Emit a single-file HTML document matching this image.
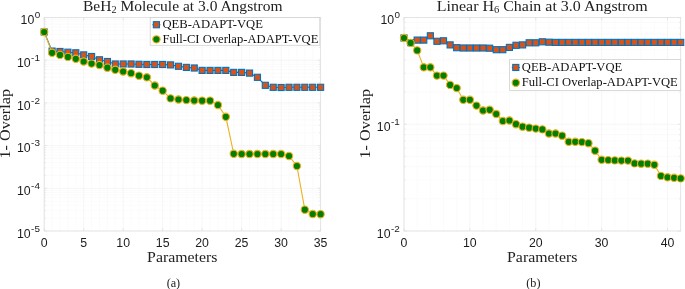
<!DOCTYPE html>
<html><head><meta charset="utf-8"><style>
html,body{margin:0;padding:0;background:#fff;}
svg{display:block;will-change:transform}
.tk{font-family:"Liberation Sans",sans-serif;font-size:12.3px;fill:#1c1c1c}
.sup{font-family:"Liberation Sans",sans-serif;font-size:9.9px;fill:#1c1c1c}
.lg{font-family:"Liberation Serif",serif;font-size:13.2px;fill:#111}
.tt{font-family:"Liberation Serif",serif;font-size:14.4px;fill:#222}
.lb{font-family:"Liberation Serif",serif;font-size:15.2px;fill:#222}
.cap{font-family:"Liberation Serif",serif;font-size:12.2px;fill:#222}
</style></head><body>
<svg width="685" height="289" viewBox="0 0 685 289">
<line x1="44.2" x2="320.6" y1="47.35" y2="47.35" stroke="#f9f9f9" stroke-width="0.7"/>
<line x1="44.2" x2="320.6" y1="39.83" y2="39.83" stroke="#f9f9f9" stroke-width="0.7"/>
<line x1="44.2" x2="320.6" y1="34.49" y2="34.49" stroke="#f9f9f9" stroke-width="0.7"/>
<line x1="44.2" x2="320.6" y1="30.35" y2="30.35" stroke="#f9f9f9" stroke-width="0.7"/>
<line x1="44.2" x2="320.6" y1="26.97" y2="26.97" stroke="#f9f9f9" stroke-width="0.7"/>
<line x1="44.2" x2="320.6" y1="24.11" y2="24.11" stroke="#f9f9f9" stroke-width="0.7"/>
<line x1="44.2" x2="320.6" y1="21.64" y2="21.64" stroke="#f9f9f9" stroke-width="0.7"/>
<line x1="44.2" x2="320.6" y1="19.45" y2="19.45" stroke="#f9f9f9" stroke-width="0.7"/>
<line x1="44.2" x2="320.6" y1="90.05" y2="90.05" stroke="#f9f9f9" stroke-width="0.7"/>
<line x1="44.2" x2="320.6" y1="82.53" y2="82.53" stroke="#f9f9f9" stroke-width="0.7"/>
<line x1="44.2" x2="320.6" y1="77.19" y2="77.19" stroke="#f9f9f9" stroke-width="0.7"/>
<line x1="44.2" x2="320.6" y1="73.05" y2="73.05" stroke="#f9f9f9" stroke-width="0.7"/>
<line x1="44.2" x2="320.6" y1="69.67" y2="69.67" stroke="#f9f9f9" stroke-width="0.7"/>
<line x1="44.2" x2="320.6" y1="66.81" y2="66.81" stroke="#f9f9f9" stroke-width="0.7"/>
<line x1="44.2" x2="320.6" y1="64.34" y2="64.34" stroke="#f9f9f9" stroke-width="0.7"/>
<line x1="44.2" x2="320.6" y1="62.15" y2="62.15" stroke="#f9f9f9" stroke-width="0.7"/>
<line x1="44.2" x2="320.6" y1="132.75" y2="132.75" stroke="#f9f9f9" stroke-width="0.7"/>
<line x1="44.2" x2="320.6" y1="125.23" y2="125.23" stroke="#f9f9f9" stroke-width="0.7"/>
<line x1="44.2" x2="320.6" y1="119.89" y2="119.89" stroke="#f9f9f9" stroke-width="0.7"/>
<line x1="44.2" x2="320.6" y1="115.75" y2="115.75" stroke="#f9f9f9" stroke-width="0.7"/>
<line x1="44.2" x2="320.6" y1="112.37" y2="112.37" stroke="#f9f9f9" stroke-width="0.7"/>
<line x1="44.2" x2="320.6" y1="109.51" y2="109.51" stroke="#f9f9f9" stroke-width="0.7"/>
<line x1="44.2" x2="320.6" y1="107.04" y2="107.04" stroke="#f9f9f9" stroke-width="0.7"/>
<line x1="44.2" x2="320.6" y1="104.85" y2="104.85" stroke="#f9f9f9" stroke-width="0.7"/>
<line x1="44.2" x2="320.6" y1="175.45" y2="175.45" stroke="#f9f9f9" stroke-width="0.7"/>
<line x1="44.2" x2="320.6" y1="167.93" y2="167.93" stroke="#f9f9f9" stroke-width="0.7"/>
<line x1="44.2" x2="320.6" y1="162.59" y2="162.59" stroke="#f9f9f9" stroke-width="0.7"/>
<line x1="44.2" x2="320.6" y1="158.45" y2="158.45" stroke="#f9f9f9" stroke-width="0.7"/>
<line x1="44.2" x2="320.6" y1="155.07" y2="155.07" stroke="#f9f9f9" stroke-width="0.7"/>
<line x1="44.2" x2="320.6" y1="152.21" y2="152.21" stroke="#f9f9f9" stroke-width="0.7"/>
<line x1="44.2" x2="320.6" y1="149.74" y2="149.74" stroke="#f9f9f9" stroke-width="0.7"/>
<line x1="44.2" x2="320.6" y1="147.55" y2="147.55" stroke="#f9f9f9" stroke-width="0.7"/>
<line x1="44.2" x2="320.6" y1="218.15" y2="218.15" stroke="#f9f9f9" stroke-width="0.7"/>
<line x1="44.2" x2="320.6" y1="210.63" y2="210.63" stroke="#f9f9f9" stroke-width="0.7"/>
<line x1="44.2" x2="320.6" y1="205.29" y2="205.29" stroke="#f9f9f9" stroke-width="0.7"/>
<line x1="44.2" x2="320.6" y1="201.15" y2="201.15" stroke="#f9f9f9" stroke-width="0.7"/>
<line x1="44.2" x2="320.6" y1="197.77" y2="197.77" stroke="#f9f9f9" stroke-width="0.7"/>
<line x1="44.2" x2="320.6" y1="194.91" y2="194.91" stroke="#f9f9f9" stroke-width="0.7"/>
<line x1="44.2" x2="320.6" y1="192.44" y2="192.44" stroke="#f9f9f9" stroke-width="0.7"/>
<line x1="44.2" x2="320.6" y1="190.25" y2="190.25" stroke="#f9f9f9" stroke-width="0.7"/>
<line x1="44.20" x2="44.20" y1="17.5" y2="231.0" stroke="#f2f2f2" stroke-width="0.7"/>
<line x1="52.10" x2="52.10" y1="17.5" y2="231.0" stroke="#f9f9f9" stroke-width="0.7"/>
<line x1="59.99" x2="59.99" y1="17.5" y2="231.0" stroke="#f9f9f9" stroke-width="0.7"/>
<line x1="67.89" x2="67.89" y1="17.5" y2="231.0" stroke="#f9f9f9" stroke-width="0.7"/>
<line x1="75.79" x2="75.79" y1="17.5" y2="231.0" stroke="#f9f9f9" stroke-width="0.7"/>
<line x1="83.69" x2="83.69" y1="17.5" y2="231.0" stroke="#f2f2f2" stroke-width="0.7"/>
<line x1="91.58" x2="91.58" y1="17.5" y2="231.0" stroke="#f9f9f9" stroke-width="0.7"/>
<line x1="99.48" x2="99.48" y1="17.5" y2="231.0" stroke="#f9f9f9" stroke-width="0.7"/>
<line x1="107.38" x2="107.38" y1="17.5" y2="231.0" stroke="#f9f9f9" stroke-width="0.7"/>
<line x1="115.27" x2="115.27" y1="17.5" y2="231.0" stroke="#f9f9f9" stroke-width="0.7"/>
<line x1="123.17" x2="123.17" y1="17.5" y2="231.0" stroke="#f2f2f2" stroke-width="0.7"/>
<line x1="131.07" x2="131.07" y1="17.5" y2="231.0" stroke="#f9f9f9" stroke-width="0.7"/>
<line x1="138.97" x2="138.97" y1="17.5" y2="231.0" stroke="#f9f9f9" stroke-width="0.7"/>
<line x1="146.86" x2="146.86" y1="17.5" y2="231.0" stroke="#f9f9f9" stroke-width="0.7"/>
<line x1="154.76" x2="154.76" y1="17.5" y2="231.0" stroke="#f9f9f9" stroke-width="0.7"/>
<line x1="162.66" x2="162.66" y1="17.5" y2="231.0" stroke="#f2f2f2" stroke-width="0.7"/>
<line x1="170.55" x2="170.55" y1="17.5" y2="231.0" stroke="#f9f9f9" stroke-width="0.7"/>
<line x1="178.45" x2="178.45" y1="17.5" y2="231.0" stroke="#f9f9f9" stroke-width="0.7"/>
<line x1="186.35" x2="186.35" y1="17.5" y2="231.0" stroke="#f9f9f9" stroke-width="0.7"/>
<line x1="194.25" x2="194.25" y1="17.5" y2="231.0" stroke="#f9f9f9" stroke-width="0.7"/>
<line x1="202.14" x2="202.14" y1="17.5" y2="231.0" stroke="#f2f2f2" stroke-width="0.7"/>
<line x1="210.04" x2="210.04" y1="17.5" y2="231.0" stroke="#f9f9f9" stroke-width="0.7"/>
<line x1="217.94" x2="217.94" y1="17.5" y2="231.0" stroke="#f9f9f9" stroke-width="0.7"/>
<line x1="225.83" x2="225.83" y1="17.5" y2="231.0" stroke="#f9f9f9" stroke-width="0.7"/>
<line x1="233.73" x2="233.73" y1="17.5" y2="231.0" stroke="#f9f9f9" stroke-width="0.7"/>
<line x1="241.63" x2="241.63" y1="17.5" y2="231.0" stroke="#f2f2f2" stroke-width="0.7"/>
<line x1="249.53" x2="249.53" y1="17.5" y2="231.0" stroke="#f9f9f9" stroke-width="0.7"/>
<line x1="257.42" x2="257.42" y1="17.5" y2="231.0" stroke="#f9f9f9" stroke-width="0.7"/>
<line x1="265.32" x2="265.32" y1="17.5" y2="231.0" stroke="#f9f9f9" stroke-width="0.7"/>
<line x1="273.22" x2="273.22" y1="17.5" y2="231.0" stroke="#f9f9f9" stroke-width="0.7"/>
<line x1="281.11" x2="281.11" y1="17.5" y2="231.0" stroke="#f2f2f2" stroke-width="0.7"/>
<line x1="289.01" x2="289.01" y1="17.5" y2="231.0" stroke="#f9f9f9" stroke-width="0.7"/>
<line x1="296.91" x2="296.91" y1="17.5" y2="231.0" stroke="#f9f9f9" stroke-width="0.7"/>
<line x1="304.81" x2="304.81" y1="17.5" y2="231.0" stroke="#f9f9f9" stroke-width="0.7"/>
<line x1="312.70" x2="312.70" y1="17.5" y2="231.0" stroke="#f9f9f9" stroke-width="0.7"/>
<line x1="320.60" x2="320.60" y1="17.5" y2="231.0" stroke="#f2f2f2" stroke-width="0.7"/>
<line x1="44.2" x2="320.6" y1="17.50" y2="17.50" stroke="#f2f2f2" stroke-width="0.7"/>
<line x1="44.2" x2="320.6" y1="60.20" y2="60.20" stroke="#f2f2f2" stroke-width="0.7"/>
<line x1="44.2" x2="320.6" y1="102.90" y2="102.90" stroke="#f2f2f2" stroke-width="0.7"/>
<line x1="44.2" x2="320.6" y1="145.60" y2="145.60" stroke="#f2f2f2" stroke-width="0.7"/>
<line x1="44.2" x2="320.6" y1="188.30" y2="188.30" stroke="#f2f2f2" stroke-width="0.7"/>
<line x1="44.2" x2="320.6" y1="231.00" y2="231.00" stroke="#f2f2f2" stroke-width="0.7"/>
<rect x="44.2" y="17.5" width="276.40000000000003" height="213.5" fill="none" stroke="#e0e0e0" stroke-width="0.8"/>
<line x1="44.20" x2="44.20" y1="231.0" y2="228.2" stroke="#e0e0e0" stroke-width="0.8"/>
<line x1="44.20" x2="44.20" y1="17.5" y2="20.3" stroke="#e0e0e0" stroke-width="0.8"/>
<text x="44.20" y="247.3" text-anchor="middle" class="tk">0</text>
<line x1="83.69" x2="83.69" y1="231.0" y2="228.2" stroke="#e0e0e0" stroke-width="0.8"/>
<line x1="83.69" x2="83.69" y1="17.5" y2="20.3" stroke="#e0e0e0" stroke-width="0.8"/>
<text x="83.69" y="247.3" text-anchor="middle" class="tk">5</text>
<line x1="123.17" x2="123.17" y1="231.0" y2="228.2" stroke="#e0e0e0" stroke-width="0.8"/>
<line x1="123.17" x2="123.17" y1="17.5" y2="20.3" stroke="#e0e0e0" stroke-width="0.8"/>
<text x="123.17" y="247.3" text-anchor="middle" class="tk">10</text>
<line x1="162.66" x2="162.66" y1="231.0" y2="228.2" stroke="#e0e0e0" stroke-width="0.8"/>
<line x1="162.66" x2="162.66" y1="17.5" y2="20.3" stroke="#e0e0e0" stroke-width="0.8"/>
<text x="162.66" y="247.3" text-anchor="middle" class="tk">15</text>
<line x1="202.14" x2="202.14" y1="231.0" y2="228.2" stroke="#e0e0e0" stroke-width="0.8"/>
<line x1="202.14" x2="202.14" y1="17.5" y2="20.3" stroke="#e0e0e0" stroke-width="0.8"/>
<text x="202.14" y="247.3" text-anchor="middle" class="tk">20</text>
<line x1="241.63" x2="241.63" y1="231.0" y2="228.2" stroke="#e0e0e0" stroke-width="0.8"/>
<line x1="241.63" x2="241.63" y1="17.5" y2="20.3" stroke="#e0e0e0" stroke-width="0.8"/>
<text x="241.63" y="247.3" text-anchor="middle" class="tk">25</text>
<line x1="281.11" x2="281.11" y1="231.0" y2="228.2" stroke="#e0e0e0" stroke-width="0.8"/>
<line x1="281.11" x2="281.11" y1="17.5" y2="20.3" stroke="#e0e0e0" stroke-width="0.8"/>
<text x="281.11" y="247.3" text-anchor="middle" class="tk">30</text>
<line x1="320.60" x2="320.60" y1="231.0" y2="228.2" stroke="#e0e0e0" stroke-width="0.8"/>
<line x1="320.60" x2="320.60" y1="17.5" y2="20.3" stroke="#e0e0e0" stroke-width="0.8"/>
<text x="320.60" y="247.3" text-anchor="middle" class="tk">35</text>
<line x1="44.2" x2="47.0" y1="17.50" y2="17.50" stroke="#e0e0e0" stroke-width="0.8"/>
<line x1="320.6" x2="317.8" y1="17.50" y2="17.50" stroke="#e0e0e0" stroke-width="0.8"/>
<text x="34.30" y="24.20" text-anchor="end" class="tk">10</text>
<text x="34.70" y="18.10" class="sup">0</text>
<line x1="44.2" x2="45.800000000000004" y1="47.35" y2="47.35" stroke="#e0e0e0" stroke-width="0.7"/>
<line x1="320.6" x2="319.0" y1="47.35" y2="47.35" stroke="#e0e0e0" stroke-width="0.7"/>
<line x1="44.2" x2="45.800000000000004" y1="39.83" y2="39.83" stroke="#e0e0e0" stroke-width="0.7"/>
<line x1="320.6" x2="319.0" y1="39.83" y2="39.83" stroke="#e0e0e0" stroke-width="0.7"/>
<line x1="44.2" x2="45.800000000000004" y1="34.49" y2="34.49" stroke="#e0e0e0" stroke-width="0.7"/>
<line x1="320.6" x2="319.0" y1="34.49" y2="34.49" stroke="#e0e0e0" stroke-width="0.7"/>
<line x1="44.2" x2="45.800000000000004" y1="30.35" y2="30.35" stroke="#e0e0e0" stroke-width="0.7"/>
<line x1="320.6" x2="319.0" y1="30.35" y2="30.35" stroke="#e0e0e0" stroke-width="0.7"/>
<line x1="44.2" x2="45.800000000000004" y1="26.97" y2="26.97" stroke="#e0e0e0" stroke-width="0.7"/>
<line x1="320.6" x2="319.0" y1="26.97" y2="26.97" stroke="#e0e0e0" stroke-width="0.7"/>
<line x1="44.2" x2="45.800000000000004" y1="24.11" y2="24.11" stroke="#e0e0e0" stroke-width="0.7"/>
<line x1="320.6" x2="319.0" y1="24.11" y2="24.11" stroke="#e0e0e0" stroke-width="0.7"/>
<line x1="44.2" x2="45.800000000000004" y1="21.64" y2="21.64" stroke="#e0e0e0" stroke-width="0.7"/>
<line x1="320.6" x2="319.0" y1="21.64" y2="21.64" stroke="#e0e0e0" stroke-width="0.7"/>
<line x1="44.2" x2="45.800000000000004" y1="19.45" y2="19.45" stroke="#e0e0e0" stroke-width="0.7"/>
<line x1="320.6" x2="319.0" y1="19.45" y2="19.45" stroke="#e0e0e0" stroke-width="0.7"/>
<line x1="44.2" x2="47.0" y1="60.20" y2="60.20" stroke="#e0e0e0" stroke-width="0.8"/>
<line x1="320.6" x2="317.8" y1="60.20" y2="60.20" stroke="#e0e0e0" stroke-width="0.8"/>
<text x="30.70" y="66.90" text-anchor="end" class="tk">10</text>
<text x="31.10" y="60.80" class="sup">-1</text>
<line x1="44.2" x2="45.800000000000004" y1="90.05" y2="90.05" stroke="#e0e0e0" stroke-width="0.7"/>
<line x1="320.6" x2="319.0" y1="90.05" y2="90.05" stroke="#e0e0e0" stroke-width="0.7"/>
<line x1="44.2" x2="45.800000000000004" y1="82.53" y2="82.53" stroke="#e0e0e0" stroke-width="0.7"/>
<line x1="320.6" x2="319.0" y1="82.53" y2="82.53" stroke="#e0e0e0" stroke-width="0.7"/>
<line x1="44.2" x2="45.800000000000004" y1="77.19" y2="77.19" stroke="#e0e0e0" stroke-width="0.7"/>
<line x1="320.6" x2="319.0" y1="77.19" y2="77.19" stroke="#e0e0e0" stroke-width="0.7"/>
<line x1="44.2" x2="45.800000000000004" y1="73.05" y2="73.05" stroke="#e0e0e0" stroke-width="0.7"/>
<line x1="320.6" x2="319.0" y1="73.05" y2="73.05" stroke="#e0e0e0" stroke-width="0.7"/>
<line x1="44.2" x2="45.800000000000004" y1="69.67" y2="69.67" stroke="#e0e0e0" stroke-width="0.7"/>
<line x1="320.6" x2="319.0" y1="69.67" y2="69.67" stroke="#e0e0e0" stroke-width="0.7"/>
<line x1="44.2" x2="45.800000000000004" y1="66.81" y2="66.81" stroke="#e0e0e0" stroke-width="0.7"/>
<line x1="320.6" x2="319.0" y1="66.81" y2="66.81" stroke="#e0e0e0" stroke-width="0.7"/>
<line x1="44.2" x2="45.800000000000004" y1="64.34" y2="64.34" stroke="#e0e0e0" stroke-width="0.7"/>
<line x1="320.6" x2="319.0" y1="64.34" y2="64.34" stroke="#e0e0e0" stroke-width="0.7"/>
<line x1="44.2" x2="45.800000000000004" y1="62.15" y2="62.15" stroke="#e0e0e0" stroke-width="0.7"/>
<line x1="320.6" x2="319.0" y1="62.15" y2="62.15" stroke="#e0e0e0" stroke-width="0.7"/>
<line x1="44.2" x2="47.0" y1="102.90" y2="102.90" stroke="#e0e0e0" stroke-width="0.8"/>
<line x1="320.6" x2="317.8" y1="102.90" y2="102.90" stroke="#e0e0e0" stroke-width="0.8"/>
<text x="30.70" y="109.60" text-anchor="end" class="tk">10</text>
<text x="31.10" y="103.50" class="sup">-2</text>
<line x1="44.2" x2="45.800000000000004" y1="132.75" y2="132.75" stroke="#e0e0e0" stroke-width="0.7"/>
<line x1="320.6" x2="319.0" y1="132.75" y2="132.75" stroke="#e0e0e0" stroke-width="0.7"/>
<line x1="44.2" x2="45.800000000000004" y1="125.23" y2="125.23" stroke="#e0e0e0" stroke-width="0.7"/>
<line x1="320.6" x2="319.0" y1="125.23" y2="125.23" stroke="#e0e0e0" stroke-width="0.7"/>
<line x1="44.2" x2="45.800000000000004" y1="119.89" y2="119.89" stroke="#e0e0e0" stroke-width="0.7"/>
<line x1="320.6" x2="319.0" y1="119.89" y2="119.89" stroke="#e0e0e0" stroke-width="0.7"/>
<line x1="44.2" x2="45.800000000000004" y1="115.75" y2="115.75" stroke="#e0e0e0" stroke-width="0.7"/>
<line x1="320.6" x2="319.0" y1="115.75" y2="115.75" stroke="#e0e0e0" stroke-width="0.7"/>
<line x1="44.2" x2="45.800000000000004" y1="112.37" y2="112.37" stroke="#e0e0e0" stroke-width="0.7"/>
<line x1="320.6" x2="319.0" y1="112.37" y2="112.37" stroke="#e0e0e0" stroke-width="0.7"/>
<line x1="44.2" x2="45.800000000000004" y1="109.51" y2="109.51" stroke="#e0e0e0" stroke-width="0.7"/>
<line x1="320.6" x2="319.0" y1="109.51" y2="109.51" stroke="#e0e0e0" stroke-width="0.7"/>
<line x1="44.2" x2="45.800000000000004" y1="107.04" y2="107.04" stroke="#e0e0e0" stroke-width="0.7"/>
<line x1="320.6" x2="319.0" y1="107.04" y2="107.04" stroke="#e0e0e0" stroke-width="0.7"/>
<line x1="44.2" x2="45.800000000000004" y1="104.85" y2="104.85" stroke="#e0e0e0" stroke-width="0.7"/>
<line x1="320.6" x2="319.0" y1="104.85" y2="104.85" stroke="#e0e0e0" stroke-width="0.7"/>
<line x1="44.2" x2="47.0" y1="145.60" y2="145.60" stroke="#e0e0e0" stroke-width="0.8"/>
<line x1="320.6" x2="317.8" y1="145.60" y2="145.60" stroke="#e0e0e0" stroke-width="0.8"/>
<text x="30.70" y="152.30" text-anchor="end" class="tk">10</text>
<text x="31.10" y="146.20" class="sup">-3</text>
<line x1="44.2" x2="45.800000000000004" y1="175.45" y2="175.45" stroke="#e0e0e0" stroke-width="0.7"/>
<line x1="320.6" x2="319.0" y1="175.45" y2="175.45" stroke="#e0e0e0" stroke-width="0.7"/>
<line x1="44.2" x2="45.800000000000004" y1="167.93" y2="167.93" stroke="#e0e0e0" stroke-width="0.7"/>
<line x1="320.6" x2="319.0" y1="167.93" y2="167.93" stroke="#e0e0e0" stroke-width="0.7"/>
<line x1="44.2" x2="45.800000000000004" y1="162.59" y2="162.59" stroke="#e0e0e0" stroke-width="0.7"/>
<line x1="320.6" x2="319.0" y1="162.59" y2="162.59" stroke="#e0e0e0" stroke-width="0.7"/>
<line x1="44.2" x2="45.800000000000004" y1="158.45" y2="158.45" stroke="#e0e0e0" stroke-width="0.7"/>
<line x1="320.6" x2="319.0" y1="158.45" y2="158.45" stroke="#e0e0e0" stroke-width="0.7"/>
<line x1="44.2" x2="45.800000000000004" y1="155.07" y2="155.07" stroke="#e0e0e0" stroke-width="0.7"/>
<line x1="320.6" x2="319.0" y1="155.07" y2="155.07" stroke="#e0e0e0" stroke-width="0.7"/>
<line x1="44.2" x2="45.800000000000004" y1="152.21" y2="152.21" stroke="#e0e0e0" stroke-width="0.7"/>
<line x1="320.6" x2="319.0" y1="152.21" y2="152.21" stroke="#e0e0e0" stroke-width="0.7"/>
<line x1="44.2" x2="45.800000000000004" y1="149.74" y2="149.74" stroke="#e0e0e0" stroke-width="0.7"/>
<line x1="320.6" x2="319.0" y1="149.74" y2="149.74" stroke="#e0e0e0" stroke-width="0.7"/>
<line x1="44.2" x2="45.800000000000004" y1="147.55" y2="147.55" stroke="#e0e0e0" stroke-width="0.7"/>
<line x1="320.6" x2="319.0" y1="147.55" y2="147.55" stroke="#e0e0e0" stroke-width="0.7"/>
<line x1="44.2" x2="47.0" y1="188.30" y2="188.30" stroke="#e0e0e0" stroke-width="0.8"/>
<line x1="320.6" x2="317.8" y1="188.30" y2="188.30" stroke="#e0e0e0" stroke-width="0.8"/>
<text x="30.70" y="195.00" text-anchor="end" class="tk">10</text>
<text x="31.10" y="188.90" class="sup">-4</text>
<line x1="44.2" x2="45.800000000000004" y1="218.15" y2="218.15" stroke="#e0e0e0" stroke-width="0.7"/>
<line x1="320.6" x2="319.0" y1="218.15" y2="218.15" stroke="#e0e0e0" stroke-width="0.7"/>
<line x1="44.2" x2="45.800000000000004" y1="210.63" y2="210.63" stroke="#e0e0e0" stroke-width="0.7"/>
<line x1="320.6" x2="319.0" y1="210.63" y2="210.63" stroke="#e0e0e0" stroke-width="0.7"/>
<line x1="44.2" x2="45.800000000000004" y1="205.29" y2="205.29" stroke="#e0e0e0" stroke-width="0.7"/>
<line x1="320.6" x2="319.0" y1="205.29" y2="205.29" stroke="#e0e0e0" stroke-width="0.7"/>
<line x1="44.2" x2="45.800000000000004" y1="201.15" y2="201.15" stroke="#e0e0e0" stroke-width="0.7"/>
<line x1="320.6" x2="319.0" y1="201.15" y2="201.15" stroke="#e0e0e0" stroke-width="0.7"/>
<line x1="44.2" x2="45.800000000000004" y1="197.77" y2="197.77" stroke="#e0e0e0" stroke-width="0.7"/>
<line x1="320.6" x2="319.0" y1="197.77" y2="197.77" stroke="#e0e0e0" stroke-width="0.7"/>
<line x1="44.2" x2="45.800000000000004" y1="194.91" y2="194.91" stroke="#e0e0e0" stroke-width="0.7"/>
<line x1="320.6" x2="319.0" y1="194.91" y2="194.91" stroke="#e0e0e0" stroke-width="0.7"/>
<line x1="44.2" x2="45.800000000000004" y1="192.44" y2="192.44" stroke="#e0e0e0" stroke-width="0.7"/>
<line x1="320.6" x2="319.0" y1="192.44" y2="192.44" stroke="#e0e0e0" stroke-width="0.7"/>
<line x1="44.2" x2="45.800000000000004" y1="190.25" y2="190.25" stroke="#e0e0e0" stroke-width="0.7"/>
<line x1="320.6" x2="319.0" y1="190.25" y2="190.25" stroke="#e0e0e0" stroke-width="0.7"/>
<line x1="44.2" x2="47.0" y1="231.00" y2="231.00" stroke="#e0e0e0" stroke-width="0.8"/>
<line x1="320.6" x2="317.8" y1="231.00" y2="231.00" stroke="#e0e0e0" stroke-width="0.8"/>
<text x="30.70" y="237.70" text-anchor="end" class="tk">10</text>
<text x="31.10" y="231.60" class="sup">-5</text>
<polyline points="44.20,32 52.10,51.1 59.99,51.5 67.89,52.2 75.79,52.8 83.69,54.9 91.58,56.5 99.48,59.8 107.38,61.5 115.27,64 123.17,64 131.07,64 138.97,64.3 146.86,64.5 154.76,64.5 162.66,64.5 170.55,64.9 178.45,66.3 186.35,67.4 194.25,68 202.14,70.4 210.04,70.4 217.94,70.4 225.83,70.4 233.73,72.4 241.63,72.4 249.53,73.1 257.42,77.3 265.32,85.3 273.22,87.3 281.11,87.5 289.01,87.3 296.91,87.3 304.81,87.3 312.70,87.3 320.60,87.3" fill="none" stroke="#0072BD" stroke-width="1.1"/>
<rect x="41.15" y="28.95" width="6.1" height="6.1" fill="#D95319" stroke="#0072BD" stroke-width="1.1"/>
<rect x="49.05" y="48.05" width="6.1" height="6.1" fill="#D95319" stroke="#0072BD" stroke-width="1.1"/>
<rect x="56.94" y="48.45" width="6.1" height="6.1" fill="#D95319" stroke="#0072BD" stroke-width="1.1"/>
<rect x="64.84" y="49.15" width="6.1" height="6.1" fill="#D95319" stroke="#0072BD" stroke-width="1.1"/>
<rect x="72.74" y="49.75" width="6.1" height="6.1" fill="#D95319" stroke="#0072BD" stroke-width="1.1"/>
<rect x="80.64" y="51.85" width="6.1" height="6.1" fill="#D95319" stroke="#0072BD" stroke-width="1.1"/>
<rect x="88.53" y="53.45" width="6.1" height="6.1" fill="#D95319" stroke="#0072BD" stroke-width="1.1"/>
<rect x="96.43" y="56.75" width="6.1" height="6.1" fill="#D95319" stroke="#0072BD" stroke-width="1.1"/>
<rect x="104.33" y="58.45" width="6.1" height="6.1" fill="#D95319" stroke="#0072BD" stroke-width="1.1"/>
<rect x="112.22" y="60.95" width="6.1" height="6.1" fill="#D95319" stroke="#0072BD" stroke-width="1.1"/>
<rect x="120.12" y="60.95" width="6.1" height="6.1" fill="#D95319" stroke="#0072BD" stroke-width="1.1"/>
<rect x="128.02" y="60.95" width="6.1" height="6.1" fill="#D95319" stroke="#0072BD" stroke-width="1.1"/>
<rect x="135.92" y="61.25" width="6.1" height="6.1" fill="#D95319" stroke="#0072BD" stroke-width="1.1"/>
<rect x="143.81" y="61.45" width="6.1" height="6.1" fill="#D95319" stroke="#0072BD" stroke-width="1.1"/>
<rect x="151.71" y="61.45" width="6.1" height="6.1" fill="#D95319" stroke="#0072BD" stroke-width="1.1"/>
<rect x="159.61" y="61.45" width="6.1" height="6.1" fill="#D95319" stroke="#0072BD" stroke-width="1.1"/>
<rect x="167.50" y="61.85" width="6.1" height="6.1" fill="#D95319" stroke="#0072BD" stroke-width="1.1"/>
<rect x="175.40" y="63.25" width="6.1" height="6.1" fill="#D95319" stroke="#0072BD" stroke-width="1.1"/>
<rect x="183.30" y="64.35" width="6.1" height="6.1" fill="#D95319" stroke="#0072BD" stroke-width="1.1"/>
<rect x="191.20" y="64.95" width="6.1" height="6.1" fill="#D95319" stroke="#0072BD" stroke-width="1.1"/>
<rect x="199.09" y="67.35" width="6.1" height="6.1" fill="#D95319" stroke="#0072BD" stroke-width="1.1"/>
<rect x="206.99" y="67.35" width="6.1" height="6.1" fill="#D95319" stroke="#0072BD" stroke-width="1.1"/>
<rect x="214.89" y="67.35" width="6.1" height="6.1" fill="#D95319" stroke="#0072BD" stroke-width="1.1"/>
<rect x="222.78" y="67.35" width="6.1" height="6.1" fill="#D95319" stroke="#0072BD" stroke-width="1.1"/>
<rect x="230.68" y="69.35" width="6.1" height="6.1" fill="#D95319" stroke="#0072BD" stroke-width="1.1"/>
<rect x="238.58" y="69.35" width="6.1" height="6.1" fill="#D95319" stroke="#0072BD" stroke-width="1.1"/>
<rect x="246.48" y="70.05" width="6.1" height="6.1" fill="#D95319" stroke="#0072BD" stroke-width="1.1"/>
<rect x="254.37" y="74.25" width="6.1" height="6.1" fill="#D95319" stroke="#0072BD" stroke-width="1.1"/>
<rect x="262.27" y="82.25" width="6.1" height="6.1" fill="#D95319" stroke="#0072BD" stroke-width="1.1"/>
<rect x="270.17" y="84.25" width="6.1" height="6.1" fill="#D95319" stroke="#0072BD" stroke-width="1.1"/>
<rect x="278.06" y="84.45" width="6.1" height="6.1" fill="#D95319" stroke="#0072BD" stroke-width="1.1"/>
<rect x="285.96" y="84.25" width="6.1" height="6.1" fill="#D95319" stroke="#0072BD" stroke-width="1.1"/>
<rect x="293.86" y="84.25" width="6.1" height="6.1" fill="#D95319" stroke="#0072BD" stroke-width="1.1"/>
<rect x="301.76" y="84.25" width="6.1" height="6.1" fill="#D95319" stroke="#0072BD" stroke-width="1.1"/>
<rect x="309.65" y="84.25" width="6.1" height="6.1" fill="#D95319" stroke="#0072BD" stroke-width="1.1"/>
<rect x="317.55" y="84.25" width="6.1" height="6.1" fill="#D95319" stroke="#0072BD" stroke-width="1.1"/>
<polyline points="44.20,32 52.10,52.8 59.99,54.9 67.89,56.9 75.79,58.8 83.69,61.5 91.58,63.6 99.48,65 107.38,67.7 115.27,69.8 123.17,71.5 131.07,73.2 138.97,75.7 146.86,77.3 154.76,85.5 162.66,90.7 170.55,98.4 178.45,99.5 186.35,100.1 194.25,100.5 202.14,100.7 210.04,100.7 217.94,105 225.83,116.8 233.73,153.8 241.63,154 249.53,154 257.42,154 265.32,154 273.22,154 281.11,154 289.01,156 296.91,166 304.81,209.7 312.70,214 320.60,214.2" fill="none" stroke="#EDB120" stroke-width="1.1"/>
<circle cx="44.20" cy="32" r="3.65" fill="#007F00" stroke="#EDB120" stroke-width="1.1"/>
<circle cx="52.10" cy="52.8" r="3.65" fill="#007F00" stroke="#EDB120" stroke-width="1.1"/>
<circle cx="59.99" cy="54.9" r="3.65" fill="#007F00" stroke="#EDB120" stroke-width="1.1"/>
<circle cx="67.89" cy="56.9" r="3.65" fill="#007F00" stroke="#EDB120" stroke-width="1.1"/>
<circle cx="75.79" cy="58.8" r="3.65" fill="#007F00" stroke="#EDB120" stroke-width="1.1"/>
<circle cx="83.69" cy="61.5" r="3.65" fill="#007F00" stroke="#EDB120" stroke-width="1.1"/>
<circle cx="91.58" cy="63.6" r="3.65" fill="#007F00" stroke="#EDB120" stroke-width="1.1"/>
<circle cx="99.48" cy="65" r="3.65" fill="#007F00" stroke="#EDB120" stroke-width="1.1"/>
<circle cx="107.38" cy="67.7" r="3.65" fill="#007F00" stroke="#EDB120" stroke-width="1.1"/>
<circle cx="115.27" cy="69.8" r="3.65" fill="#007F00" stroke="#EDB120" stroke-width="1.1"/>
<circle cx="123.17" cy="71.5" r="3.65" fill="#007F00" stroke="#EDB120" stroke-width="1.1"/>
<circle cx="131.07" cy="73.2" r="3.65" fill="#007F00" stroke="#EDB120" stroke-width="1.1"/>
<circle cx="138.97" cy="75.7" r="3.65" fill="#007F00" stroke="#EDB120" stroke-width="1.1"/>
<circle cx="146.86" cy="77.3" r="3.65" fill="#007F00" stroke="#EDB120" stroke-width="1.1"/>
<circle cx="154.76" cy="85.5" r="3.65" fill="#007F00" stroke="#EDB120" stroke-width="1.1"/>
<circle cx="162.66" cy="90.7" r="3.65" fill="#007F00" stroke="#EDB120" stroke-width="1.1"/>
<circle cx="170.55" cy="98.4" r="3.65" fill="#007F00" stroke="#EDB120" stroke-width="1.1"/>
<circle cx="178.45" cy="99.5" r="3.65" fill="#007F00" stroke="#EDB120" stroke-width="1.1"/>
<circle cx="186.35" cy="100.1" r="3.65" fill="#007F00" stroke="#EDB120" stroke-width="1.1"/>
<circle cx="194.25" cy="100.5" r="3.65" fill="#007F00" stroke="#EDB120" stroke-width="1.1"/>
<circle cx="202.14" cy="100.7" r="3.65" fill="#007F00" stroke="#EDB120" stroke-width="1.1"/>
<circle cx="210.04" cy="100.7" r="3.65" fill="#007F00" stroke="#EDB120" stroke-width="1.1"/>
<circle cx="217.94" cy="105" r="3.65" fill="#007F00" stroke="#EDB120" stroke-width="1.1"/>
<circle cx="225.83" cy="116.8" r="3.65" fill="#007F00" stroke="#EDB120" stroke-width="1.1"/>
<circle cx="233.73" cy="153.8" r="3.65" fill="#007F00" stroke="#EDB120" stroke-width="1.1"/>
<circle cx="241.63" cy="154" r="3.65" fill="#007F00" stroke="#EDB120" stroke-width="1.1"/>
<circle cx="249.53" cy="154" r="3.65" fill="#007F00" stroke="#EDB120" stroke-width="1.1"/>
<circle cx="257.42" cy="154" r="3.65" fill="#007F00" stroke="#EDB120" stroke-width="1.1"/>
<circle cx="265.32" cy="154" r="3.65" fill="#007F00" stroke="#EDB120" stroke-width="1.1"/>
<circle cx="273.22" cy="154" r="3.65" fill="#007F00" stroke="#EDB120" stroke-width="1.1"/>
<circle cx="281.11" cy="154" r="3.65" fill="#007F00" stroke="#EDB120" stroke-width="1.1"/>
<circle cx="289.01" cy="156" r="3.65" fill="#007F00" stroke="#EDB120" stroke-width="1.1"/>
<circle cx="296.91" cy="166" r="3.65" fill="#007F00" stroke="#EDB120" stroke-width="1.1"/>
<circle cx="304.81" cy="209.7" r="3.65" fill="#007F00" stroke="#EDB120" stroke-width="1.1"/>
<circle cx="312.70" cy="214" r="3.65" fill="#007F00" stroke="#EDB120" stroke-width="1.1"/>
<circle cx="320.60" cy="214.2" r="3.65" fill="#007F00" stroke="#EDB120" stroke-width="1.1"/>
<rect x="150.2" y="17.5" width="169.6" height="27.8" fill="#fff" stroke="#d0d0d0" stroke-width="0.8"/>
<line x1="152.39999999999998" x2="160.39999999999998" y1="24.73" y2="24.73" stroke="#0072BD" stroke-width="1.1"/>
<rect x="153.35" y="21.68" width="6.1" height="6.1" fill="#D95319" stroke="#0072BD" stroke-width="1.1"/>
<line x1="152.39999999999998" x2="160.39999999999998" y1="39.33" y2="39.33" stroke="#EDB120" stroke-width="1.1"/>
<circle cx="156.40" cy="39.33" r="3.65" fill="#007F00" stroke="#EDB120" stroke-width="1.1"/>
<text x="162.39999999999998" y="28.73" class="lg" textLength="100.5" dy="-0.4" lengthAdjust="spacingAndGlyphs">QEB-ADAPT-VQE</text>
<text x="162.39999999999998" y="43.33" class="lg" textLength="156" dy="-0.4" lengthAdjust="spacingAndGlyphs">Full-CI Overlap-ADAPT-VQE</text>
<text x="83" y="10.5" textLength="199.5" lengthAdjust="spacingAndGlyphs" class="tt">BeH<tspan dy="2.5" font-size="9.5">2</tspan><tspan dy="-2.5"> Molecule at 3.0 Angstrom</tspan></text>
<text x="147.10" y="262.2" class="lb" textLength="70.4" lengthAdjust="spacingAndGlyphs">Parameters</text>
<text transform="translate(10.00,158.45) rotate(-90)" class="lb" textLength="69.4" lengthAdjust="spacingAndGlyphs">1- Overlap</text>
<text x="173.40" y="286.8" text-anchor="middle" class="cap">(a)</text>
<line x1="404.0" x2="680.7" y1="92.12" y2="92.12" stroke="#f9f9f9" stroke-width="0.7"/>
<line x1="404.0" x2="680.7" y1="73.32" y2="73.32" stroke="#f9f9f9" stroke-width="0.7"/>
<line x1="404.0" x2="680.7" y1="59.98" y2="59.98" stroke="#f9f9f9" stroke-width="0.7"/>
<line x1="404.0" x2="680.7" y1="49.63" y2="49.63" stroke="#f9f9f9" stroke-width="0.7"/>
<line x1="404.0" x2="680.7" y1="41.18" y2="41.18" stroke="#f9f9f9" stroke-width="0.7"/>
<line x1="404.0" x2="680.7" y1="34.04" y2="34.04" stroke="#f9f9f9" stroke-width="0.7"/>
<line x1="404.0" x2="680.7" y1="27.85" y2="27.85" stroke="#f9f9f9" stroke-width="0.7"/>
<line x1="404.0" x2="680.7" y1="22.38" y2="22.38" stroke="#f9f9f9" stroke-width="0.7"/>
<line x1="404.0" x2="680.7" y1="198.87" y2="198.87" stroke="#f9f9f9" stroke-width="0.7"/>
<line x1="404.0" x2="680.7" y1="180.07" y2="180.07" stroke="#f9f9f9" stroke-width="0.7"/>
<line x1="404.0" x2="680.7" y1="166.73" y2="166.73" stroke="#f9f9f9" stroke-width="0.7"/>
<line x1="404.0" x2="680.7" y1="156.38" y2="156.38" stroke="#f9f9f9" stroke-width="0.7"/>
<line x1="404.0" x2="680.7" y1="147.93" y2="147.93" stroke="#f9f9f9" stroke-width="0.7"/>
<line x1="404.0" x2="680.7" y1="140.79" y2="140.79" stroke="#f9f9f9" stroke-width="0.7"/>
<line x1="404.0" x2="680.7" y1="134.60" y2="134.60" stroke="#f9f9f9" stroke-width="0.7"/>
<line x1="404.0" x2="680.7" y1="129.13" y2="129.13" stroke="#f9f9f9" stroke-width="0.7"/>
<line x1="404.00" x2="404.00" y1="17.5" y2="231.0" stroke="#f2f2f2" stroke-width="0.7"/>
<line x1="417.18" x2="417.18" y1="17.5" y2="231.0" stroke="#f9f9f9" stroke-width="0.7"/>
<line x1="430.35" x2="430.35" y1="17.5" y2="231.0" stroke="#f9f9f9" stroke-width="0.7"/>
<line x1="443.53" x2="443.53" y1="17.5" y2="231.0" stroke="#f9f9f9" stroke-width="0.7"/>
<line x1="456.70" x2="456.70" y1="17.5" y2="231.0" stroke="#f9f9f9" stroke-width="0.7"/>
<line x1="469.88" x2="469.88" y1="17.5" y2="231.0" stroke="#f2f2f2" stroke-width="0.7"/>
<line x1="483.06" x2="483.06" y1="17.5" y2="231.0" stroke="#f9f9f9" stroke-width="0.7"/>
<line x1="496.23" x2="496.23" y1="17.5" y2="231.0" stroke="#f9f9f9" stroke-width="0.7"/>
<line x1="509.41" x2="509.41" y1="17.5" y2="231.0" stroke="#f9f9f9" stroke-width="0.7"/>
<line x1="522.59" x2="522.59" y1="17.5" y2="231.0" stroke="#f9f9f9" stroke-width="0.7"/>
<line x1="535.76" x2="535.76" y1="17.5" y2="231.0" stroke="#f2f2f2" stroke-width="0.7"/>
<line x1="548.94" x2="548.94" y1="17.5" y2="231.0" stroke="#f9f9f9" stroke-width="0.7"/>
<line x1="562.11" x2="562.11" y1="17.5" y2="231.0" stroke="#f9f9f9" stroke-width="0.7"/>
<line x1="575.29" x2="575.29" y1="17.5" y2="231.0" stroke="#f9f9f9" stroke-width="0.7"/>
<line x1="588.47" x2="588.47" y1="17.5" y2="231.0" stroke="#f9f9f9" stroke-width="0.7"/>
<line x1="601.64" x2="601.64" y1="17.5" y2="231.0" stroke="#f2f2f2" stroke-width="0.7"/>
<line x1="614.82" x2="614.82" y1="17.5" y2="231.0" stroke="#f9f9f9" stroke-width="0.7"/>
<line x1="628.00" x2="628.00" y1="17.5" y2="231.0" stroke="#f9f9f9" stroke-width="0.7"/>
<line x1="641.17" x2="641.17" y1="17.5" y2="231.0" stroke="#f9f9f9" stroke-width="0.7"/>
<line x1="654.35" x2="654.35" y1="17.5" y2="231.0" stroke="#f9f9f9" stroke-width="0.7"/>
<line x1="667.52" x2="667.52" y1="17.5" y2="231.0" stroke="#f2f2f2" stroke-width="0.7"/>
<line x1="680.70" x2="680.70" y1="17.5" y2="231.0" stroke="#f9f9f9" stroke-width="0.7"/>
<line x1="404.0" x2="680.7" y1="17.50" y2="17.50" stroke="#f2f2f2" stroke-width="0.7"/>
<line x1="404.0" x2="680.7" y1="124.25" y2="124.25" stroke="#f2f2f2" stroke-width="0.7"/>
<line x1="404.0" x2="680.7" y1="231.00" y2="231.00" stroke="#f2f2f2" stroke-width="0.7"/>
<rect x="404.0" y="17.5" width="276.70000000000005" height="213.5" fill="none" stroke="#e0e0e0" stroke-width="0.8"/>
<line x1="404.00" x2="404.00" y1="231.0" y2="228.2" stroke="#e0e0e0" stroke-width="0.8"/>
<line x1="404.00" x2="404.00" y1="17.5" y2="20.3" stroke="#e0e0e0" stroke-width="0.8"/>
<text x="404.00" y="247.3" text-anchor="middle" class="tk">0</text>
<line x1="469.88" x2="469.88" y1="231.0" y2="228.2" stroke="#e0e0e0" stroke-width="0.8"/>
<line x1="469.88" x2="469.88" y1="17.5" y2="20.3" stroke="#e0e0e0" stroke-width="0.8"/>
<text x="469.88" y="247.3" text-anchor="middle" class="tk">10</text>
<line x1="535.76" x2="535.76" y1="231.0" y2="228.2" stroke="#e0e0e0" stroke-width="0.8"/>
<line x1="535.76" x2="535.76" y1="17.5" y2="20.3" stroke="#e0e0e0" stroke-width="0.8"/>
<text x="535.76" y="247.3" text-anchor="middle" class="tk">20</text>
<line x1="601.64" x2="601.64" y1="231.0" y2="228.2" stroke="#e0e0e0" stroke-width="0.8"/>
<line x1="601.64" x2="601.64" y1="17.5" y2="20.3" stroke="#e0e0e0" stroke-width="0.8"/>
<text x="601.64" y="247.3" text-anchor="middle" class="tk">30</text>
<line x1="667.52" x2="667.52" y1="231.0" y2="228.2" stroke="#e0e0e0" stroke-width="0.8"/>
<line x1="667.52" x2="667.52" y1="17.5" y2="20.3" stroke="#e0e0e0" stroke-width="0.8"/>
<text x="667.52" y="247.3" text-anchor="middle" class="tk">40</text>
<line x1="404.0" x2="406.8" y1="17.50" y2="17.50" stroke="#e0e0e0" stroke-width="0.8"/>
<line x1="680.7" x2="677.9000000000001" y1="17.50" y2="17.50" stroke="#e0e0e0" stroke-width="0.8"/>
<text x="394.10" y="24.20" text-anchor="end" class="tk">10</text>
<text x="394.50" y="18.10" class="sup">0</text>
<line x1="404.0" x2="405.6" y1="92.12" y2="92.12" stroke="#e0e0e0" stroke-width="0.7"/>
<line x1="680.7" x2="679.1" y1="92.12" y2="92.12" stroke="#e0e0e0" stroke-width="0.7"/>
<line x1="404.0" x2="405.6" y1="73.32" y2="73.32" stroke="#e0e0e0" stroke-width="0.7"/>
<line x1="680.7" x2="679.1" y1="73.32" y2="73.32" stroke="#e0e0e0" stroke-width="0.7"/>
<line x1="404.0" x2="405.6" y1="59.98" y2="59.98" stroke="#e0e0e0" stroke-width="0.7"/>
<line x1="680.7" x2="679.1" y1="59.98" y2="59.98" stroke="#e0e0e0" stroke-width="0.7"/>
<line x1="404.0" x2="405.6" y1="49.63" y2="49.63" stroke="#e0e0e0" stroke-width="0.7"/>
<line x1="680.7" x2="679.1" y1="49.63" y2="49.63" stroke="#e0e0e0" stroke-width="0.7"/>
<line x1="404.0" x2="405.6" y1="41.18" y2="41.18" stroke="#e0e0e0" stroke-width="0.7"/>
<line x1="680.7" x2="679.1" y1="41.18" y2="41.18" stroke="#e0e0e0" stroke-width="0.7"/>
<line x1="404.0" x2="405.6" y1="34.04" y2="34.04" stroke="#e0e0e0" stroke-width="0.7"/>
<line x1="680.7" x2="679.1" y1="34.04" y2="34.04" stroke="#e0e0e0" stroke-width="0.7"/>
<line x1="404.0" x2="405.6" y1="27.85" y2="27.85" stroke="#e0e0e0" stroke-width="0.7"/>
<line x1="680.7" x2="679.1" y1="27.85" y2="27.85" stroke="#e0e0e0" stroke-width="0.7"/>
<line x1="404.0" x2="405.6" y1="22.38" y2="22.38" stroke="#e0e0e0" stroke-width="0.7"/>
<line x1="680.7" x2="679.1" y1="22.38" y2="22.38" stroke="#e0e0e0" stroke-width="0.7"/>
<line x1="404.0" x2="406.8" y1="124.25" y2="124.25" stroke="#e0e0e0" stroke-width="0.8"/>
<line x1="680.7" x2="677.9000000000001" y1="124.25" y2="124.25" stroke="#e0e0e0" stroke-width="0.8"/>
<text x="390.50" y="130.95" text-anchor="end" class="tk">10</text>
<text x="390.90" y="124.85" class="sup">-1</text>
<line x1="404.0" x2="405.6" y1="198.87" y2="198.87" stroke="#e0e0e0" stroke-width="0.7"/>
<line x1="680.7" x2="679.1" y1="198.87" y2="198.87" stroke="#e0e0e0" stroke-width="0.7"/>
<line x1="404.0" x2="405.6" y1="180.07" y2="180.07" stroke="#e0e0e0" stroke-width="0.7"/>
<line x1="680.7" x2="679.1" y1="180.07" y2="180.07" stroke="#e0e0e0" stroke-width="0.7"/>
<line x1="404.0" x2="405.6" y1="166.73" y2="166.73" stroke="#e0e0e0" stroke-width="0.7"/>
<line x1="680.7" x2="679.1" y1="166.73" y2="166.73" stroke="#e0e0e0" stroke-width="0.7"/>
<line x1="404.0" x2="405.6" y1="156.38" y2="156.38" stroke="#e0e0e0" stroke-width="0.7"/>
<line x1="680.7" x2="679.1" y1="156.38" y2="156.38" stroke="#e0e0e0" stroke-width="0.7"/>
<line x1="404.0" x2="405.6" y1="147.93" y2="147.93" stroke="#e0e0e0" stroke-width="0.7"/>
<line x1="680.7" x2="679.1" y1="147.93" y2="147.93" stroke="#e0e0e0" stroke-width="0.7"/>
<line x1="404.0" x2="405.6" y1="140.79" y2="140.79" stroke="#e0e0e0" stroke-width="0.7"/>
<line x1="680.7" x2="679.1" y1="140.79" y2="140.79" stroke="#e0e0e0" stroke-width="0.7"/>
<line x1="404.0" x2="405.6" y1="134.60" y2="134.60" stroke="#e0e0e0" stroke-width="0.7"/>
<line x1="680.7" x2="679.1" y1="134.60" y2="134.60" stroke="#e0e0e0" stroke-width="0.7"/>
<line x1="404.0" x2="405.6" y1="129.13" y2="129.13" stroke="#e0e0e0" stroke-width="0.7"/>
<line x1="680.7" x2="679.1" y1="129.13" y2="129.13" stroke="#e0e0e0" stroke-width="0.7"/>
<line x1="404.0" x2="406.8" y1="231.00" y2="231.00" stroke="#e0e0e0" stroke-width="0.8"/>
<line x1="680.7" x2="677.9000000000001" y1="231.00" y2="231.00" stroke="#e0e0e0" stroke-width="0.8"/>
<text x="390.50" y="237.70" text-anchor="end" class="tk">10</text>
<text x="390.90" y="231.60" class="sup">-2</text>
<polyline points="404.00,38 410.59,42.6 417.18,40.1 423.76,40.1 430.35,35.8 436.94,41.3 443.53,40.8 450.12,44.9 456.70,47.7 463.29,48 469.88,48 476.47,48 483.06,48 489.65,48.2 496.23,49.7 502.82,49.7 509.41,47.4 516.00,45.3 522.59,44.9 529.17,42.8 535.76,42.8 542.35,41.8 548.94,42.2 555.53,42.4 562.11,42.4 568.70,42.4 575.29,42.4 581.88,42.4 588.47,42.4 595.05,42.4 601.64,42.4 608.23,42.4 614.82,42.4 621.41,42.4 628.00,42.4 634.58,42.4 641.17,42.4 647.76,42.4 654.35,42.4 660.94,42.4 667.52,42.4 674.11,42.4 680.70,42.4" fill="none" stroke="#0072BD" stroke-width="1.1"/>
<rect x="400.95" y="34.95" width="6.1" height="6.1" fill="#D95319" stroke="#0072BD" stroke-width="1.1"/>
<rect x="407.54" y="39.55" width="6.1" height="6.1" fill="#D95319" stroke="#0072BD" stroke-width="1.1"/>
<rect x="414.13" y="37.05" width="6.1" height="6.1" fill="#D95319" stroke="#0072BD" stroke-width="1.1"/>
<rect x="420.71" y="37.05" width="6.1" height="6.1" fill="#D95319" stroke="#0072BD" stroke-width="1.1"/>
<rect x="427.30" y="32.75" width="6.1" height="6.1" fill="#D95319" stroke="#0072BD" stroke-width="1.1"/>
<rect x="433.89" y="38.25" width="6.1" height="6.1" fill="#D95319" stroke="#0072BD" stroke-width="1.1"/>
<rect x="440.48" y="37.75" width="6.1" height="6.1" fill="#D95319" stroke="#0072BD" stroke-width="1.1"/>
<rect x="447.07" y="41.85" width="6.1" height="6.1" fill="#D95319" stroke="#0072BD" stroke-width="1.1"/>
<rect x="453.65" y="44.65" width="6.1" height="6.1" fill="#D95319" stroke="#0072BD" stroke-width="1.1"/>
<rect x="460.24" y="44.95" width="6.1" height="6.1" fill="#D95319" stroke="#0072BD" stroke-width="1.1"/>
<rect x="466.83" y="44.95" width="6.1" height="6.1" fill="#D95319" stroke="#0072BD" stroke-width="1.1"/>
<rect x="473.42" y="44.95" width="6.1" height="6.1" fill="#D95319" stroke="#0072BD" stroke-width="1.1"/>
<rect x="480.01" y="44.95" width="6.1" height="6.1" fill="#D95319" stroke="#0072BD" stroke-width="1.1"/>
<rect x="486.60" y="45.15" width="6.1" height="6.1" fill="#D95319" stroke="#0072BD" stroke-width="1.1"/>
<rect x="493.18" y="46.65" width="6.1" height="6.1" fill="#D95319" stroke="#0072BD" stroke-width="1.1"/>
<rect x="499.77" y="46.65" width="6.1" height="6.1" fill="#D95319" stroke="#0072BD" stroke-width="1.1"/>
<rect x="506.36" y="44.35" width="6.1" height="6.1" fill="#D95319" stroke="#0072BD" stroke-width="1.1"/>
<rect x="512.95" y="42.25" width="6.1" height="6.1" fill="#D95319" stroke="#0072BD" stroke-width="1.1"/>
<rect x="519.54" y="41.85" width="6.1" height="6.1" fill="#D95319" stroke="#0072BD" stroke-width="1.1"/>
<rect x="526.12" y="39.75" width="6.1" height="6.1" fill="#D95319" stroke="#0072BD" stroke-width="1.1"/>
<rect x="532.71" y="39.75" width="6.1" height="6.1" fill="#D95319" stroke="#0072BD" stroke-width="1.1"/>
<rect x="539.30" y="38.75" width="6.1" height="6.1" fill="#D95319" stroke="#0072BD" stroke-width="1.1"/>
<rect x="545.89" y="39.15" width="6.1" height="6.1" fill="#D95319" stroke="#0072BD" stroke-width="1.1"/>
<rect x="552.48" y="39.35" width="6.1" height="6.1" fill="#D95319" stroke="#0072BD" stroke-width="1.1"/>
<rect x="559.06" y="39.35" width="6.1" height="6.1" fill="#D95319" stroke="#0072BD" stroke-width="1.1"/>
<rect x="565.65" y="39.35" width="6.1" height="6.1" fill="#D95319" stroke="#0072BD" stroke-width="1.1"/>
<rect x="572.24" y="39.35" width="6.1" height="6.1" fill="#D95319" stroke="#0072BD" stroke-width="1.1"/>
<rect x="578.83" y="39.35" width="6.1" height="6.1" fill="#D95319" stroke="#0072BD" stroke-width="1.1"/>
<rect x="585.42" y="39.35" width="6.1" height="6.1" fill="#D95319" stroke="#0072BD" stroke-width="1.1"/>
<rect x="592.00" y="39.35" width="6.1" height="6.1" fill="#D95319" stroke="#0072BD" stroke-width="1.1"/>
<rect x="598.59" y="39.35" width="6.1" height="6.1" fill="#D95319" stroke="#0072BD" stroke-width="1.1"/>
<rect x="605.18" y="39.35" width="6.1" height="6.1" fill="#D95319" stroke="#0072BD" stroke-width="1.1"/>
<rect x="611.77" y="39.35" width="6.1" height="6.1" fill="#D95319" stroke="#0072BD" stroke-width="1.1"/>
<rect x="618.36" y="39.35" width="6.1" height="6.1" fill="#D95319" stroke="#0072BD" stroke-width="1.1"/>
<rect x="624.95" y="39.35" width="6.1" height="6.1" fill="#D95319" stroke="#0072BD" stroke-width="1.1"/>
<rect x="631.53" y="39.35" width="6.1" height="6.1" fill="#D95319" stroke="#0072BD" stroke-width="1.1"/>
<rect x="638.12" y="39.35" width="6.1" height="6.1" fill="#D95319" stroke="#0072BD" stroke-width="1.1"/>
<rect x="644.71" y="39.35" width="6.1" height="6.1" fill="#D95319" stroke="#0072BD" stroke-width="1.1"/>
<rect x="651.30" y="39.35" width="6.1" height="6.1" fill="#D95319" stroke="#0072BD" stroke-width="1.1"/>
<rect x="657.89" y="39.35" width="6.1" height="6.1" fill="#D95319" stroke="#0072BD" stroke-width="1.1"/>
<rect x="664.47" y="39.35" width="6.1" height="6.1" fill="#D95319" stroke="#0072BD" stroke-width="1.1"/>
<rect x="671.06" y="39.35" width="6.1" height="6.1" fill="#D95319" stroke="#0072BD" stroke-width="1.1"/>
<rect x="677.65" y="39.35" width="6.1" height="6.1" fill="#D95319" stroke="#0072BD" stroke-width="1.1"/>
<polyline points="404.00,38 410.59,42.9 417.18,50.4 423.76,67.3 430.35,67.3 436.94,75.6 443.53,75.6 450.12,84.9 456.70,88.1 463.29,99.8 469.88,99.8 476.47,105.6 483.06,110.5 489.65,109.8 496.23,114 502.82,121 509.41,120.5 516.00,124.2 522.59,126.7 529.17,127.7 535.76,128.6 542.35,129.4 548.94,133.5 555.53,133.5 562.11,135.7 568.70,141.8 575.29,141.8 581.88,142.1 588.47,143.2 595.05,150.7 601.64,159.8 608.23,160.1 614.82,160.4 621.41,160.6 628.00,160.6 634.58,163.4 641.17,163.7 647.76,163.7 654.35,164.8 660.94,175.9 667.52,177.3 674.11,177.8 680.70,178.4" fill="none" stroke="#EDB120" stroke-width="1.1"/>
<circle cx="404.00" cy="38" r="3.65" fill="#007F00" stroke="#EDB120" stroke-width="1.1"/>
<circle cx="410.59" cy="42.9" r="3.65" fill="#007F00" stroke="#EDB120" stroke-width="1.1"/>
<circle cx="417.18" cy="50.4" r="3.65" fill="#007F00" stroke="#EDB120" stroke-width="1.1"/>
<circle cx="423.76" cy="67.3" r="3.65" fill="#007F00" stroke="#EDB120" stroke-width="1.1"/>
<circle cx="430.35" cy="67.3" r="3.65" fill="#007F00" stroke="#EDB120" stroke-width="1.1"/>
<circle cx="436.94" cy="75.6" r="3.65" fill="#007F00" stroke="#EDB120" stroke-width="1.1"/>
<circle cx="443.53" cy="75.6" r="3.65" fill="#007F00" stroke="#EDB120" stroke-width="1.1"/>
<circle cx="450.12" cy="84.9" r="3.65" fill="#007F00" stroke="#EDB120" stroke-width="1.1"/>
<circle cx="456.70" cy="88.1" r="3.65" fill="#007F00" stroke="#EDB120" stroke-width="1.1"/>
<circle cx="463.29" cy="99.8" r="3.65" fill="#007F00" stroke="#EDB120" stroke-width="1.1"/>
<circle cx="469.88" cy="99.8" r="3.65" fill="#007F00" stroke="#EDB120" stroke-width="1.1"/>
<circle cx="476.47" cy="105.6" r="3.65" fill="#007F00" stroke="#EDB120" stroke-width="1.1"/>
<circle cx="483.06" cy="110.5" r="3.65" fill="#007F00" stroke="#EDB120" stroke-width="1.1"/>
<circle cx="489.65" cy="109.8" r="3.65" fill="#007F00" stroke="#EDB120" stroke-width="1.1"/>
<circle cx="496.23" cy="114" r="3.65" fill="#007F00" stroke="#EDB120" stroke-width="1.1"/>
<circle cx="502.82" cy="121" r="3.65" fill="#007F00" stroke="#EDB120" stroke-width="1.1"/>
<circle cx="509.41" cy="120.5" r="3.65" fill="#007F00" stroke="#EDB120" stroke-width="1.1"/>
<circle cx="516.00" cy="124.2" r="3.65" fill="#007F00" stroke="#EDB120" stroke-width="1.1"/>
<circle cx="522.59" cy="126.7" r="3.65" fill="#007F00" stroke="#EDB120" stroke-width="1.1"/>
<circle cx="529.17" cy="127.7" r="3.65" fill="#007F00" stroke="#EDB120" stroke-width="1.1"/>
<circle cx="535.76" cy="128.6" r="3.65" fill="#007F00" stroke="#EDB120" stroke-width="1.1"/>
<circle cx="542.35" cy="129.4" r="3.65" fill="#007F00" stroke="#EDB120" stroke-width="1.1"/>
<circle cx="548.94" cy="133.5" r="3.65" fill="#007F00" stroke="#EDB120" stroke-width="1.1"/>
<circle cx="555.53" cy="133.5" r="3.65" fill="#007F00" stroke="#EDB120" stroke-width="1.1"/>
<circle cx="562.11" cy="135.7" r="3.65" fill="#007F00" stroke="#EDB120" stroke-width="1.1"/>
<circle cx="568.70" cy="141.8" r="3.65" fill="#007F00" stroke="#EDB120" stroke-width="1.1"/>
<circle cx="575.29" cy="141.8" r="3.65" fill="#007F00" stroke="#EDB120" stroke-width="1.1"/>
<circle cx="581.88" cy="142.1" r="3.65" fill="#007F00" stroke="#EDB120" stroke-width="1.1"/>
<circle cx="588.47" cy="143.2" r="3.65" fill="#007F00" stroke="#EDB120" stroke-width="1.1"/>
<circle cx="595.05" cy="150.7" r="3.65" fill="#007F00" stroke="#EDB120" stroke-width="1.1"/>
<circle cx="601.64" cy="159.8" r="3.65" fill="#007F00" stroke="#EDB120" stroke-width="1.1"/>
<circle cx="608.23" cy="160.1" r="3.65" fill="#007F00" stroke="#EDB120" stroke-width="1.1"/>
<circle cx="614.82" cy="160.4" r="3.65" fill="#007F00" stroke="#EDB120" stroke-width="1.1"/>
<circle cx="621.41" cy="160.6" r="3.65" fill="#007F00" stroke="#EDB120" stroke-width="1.1"/>
<circle cx="628.00" cy="160.6" r="3.65" fill="#007F00" stroke="#EDB120" stroke-width="1.1"/>
<circle cx="634.58" cy="163.4" r="3.65" fill="#007F00" stroke="#EDB120" stroke-width="1.1"/>
<circle cx="641.17" cy="163.7" r="3.65" fill="#007F00" stroke="#EDB120" stroke-width="1.1"/>
<circle cx="647.76" cy="163.7" r="3.65" fill="#007F00" stroke="#EDB120" stroke-width="1.1"/>
<circle cx="654.35" cy="164.8" r="3.65" fill="#007F00" stroke="#EDB120" stroke-width="1.1"/>
<circle cx="660.94" cy="175.9" r="3.65" fill="#007F00" stroke="#EDB120" stroke-width="1.1"/>
<circle cx="667.52" cy="177.3" r="3.65" fill="#007F00" stroke="#EDB120" stroke-width="1.1"/>
<circle cx="674.11" cy="177.8" r="3.65" fill="#007F00" stroke="#EDB120" stroke-width="1.1"/>
<circle cx="680.70" cy="178.4" r="3.65" fill="#007F00" stroke="#EDB120" stroke-width="1.1"/>
<rect x="509.6" y="59.4" width="171.1" height="31" fill="#fff" stroke="#d0d0d0" stroke-width="0.8"/>
<line x1="511.80000000000007" x2="519.8000000000001" y1="67.46" y2="67.46" stroke="#0072BD" stroke-width="1.1"/>
<rect x="512.75" y="64.41" width="6.1" height="6.1" fill="#D95319" stroke="#0072BD" stroke-width="1.1"/>
<line x1="511.80000000000007" x2="519.8000000000001" y1="82.76" y2="82.76" stroke="#EDB120" stroke-width="1.1"/>
<circle cx="515.80" cy="82.76" r="3.65" fill="#007F00" stroke="#EDB120" stroke-width="1.1"/>
<text x="521.8000000000001" y="71.46" class="lg" textLength="100.5" dy="-0.4" lengthAdjust="spacingAndGlyphs">QEB-ADAPT-VQE</text>
<text x="521.8000000000001" y="86.76" class="lg" textLength="156" dy="-0.4" lengthAdjust="spacingAndGlyphs">Full-CI Overlap-ADAPT-VQE</text>
<text x="436.8" y="10.5" textLength="211" lengthAdjust="spacingAndGlyphs" class="tt">Linear H<tspan dy="2.5" font-size="9.5">6</tspan><tspan dy="-2.5"> Chain at 3.0 Angstrom</tspan></text>
<text x="507.05" y="262.2" class="lb" textLength="70.4" lengthAdjust="spacingAndGlyphs">Parameters</text>
<text transform="translate(369.80,158.45) rotate(-90)" class="lb" textLength="69.4" lengthAdjust="spacingAndGlyphs">1- Overlap</text>
<text x="533.35" y="286.8" text-anchor="middle" class="cap">(b)</text>
</svg></body></html>
